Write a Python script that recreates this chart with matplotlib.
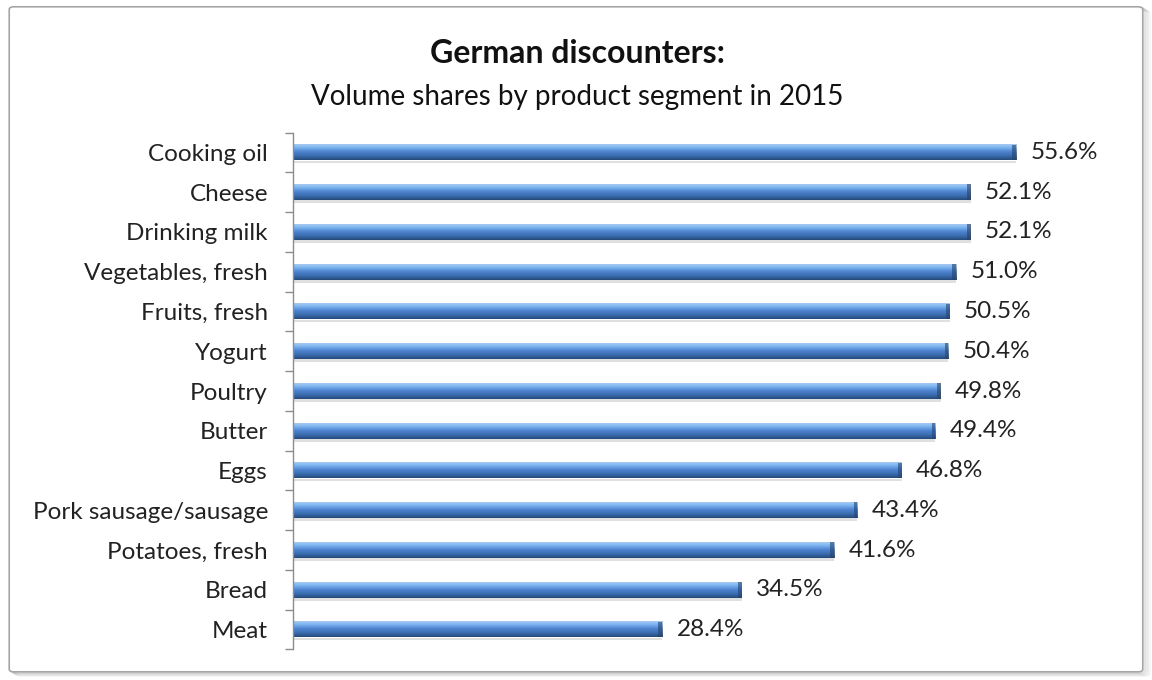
import matplotlib.pyplot as plt
import numpy as np
from matplotlib.patches import FancyBboxPatch
from matplotlib.colors import LinearSegmentedColormap

plt.rcParams['font.family'] = ['Lato', 'DejaVu Sans']

segments = ['Cooking oil', 'Cheese', 'Drinking milk', 'Vegetables, fresh', 'Fruits, fresh',
            'Yogurt', 'Poultry', 'Butter', 'Eggs', 'Pork sausage/sausage',
            'Potatoes, fresh', 'Bread', 'Meat']
shares = [55.6, 52.1, 52.1, 51.0, 50.5, 50.4, 49.8, 49.4, 46.8, 43.4, 41.6, 34.5, 28.4]

fig = plt.figure(figsize=(11.52, 6.8), dpi=100)

# outer frame with soft shadow
for i, a in enumerate([0.10, 0.08, 0.06, 0.04]):
    d = 0.0015 * (i + 1)
    fig.patches.append(FancyBboxPatch((0.008 + d, 0.012 - d), 0.984, 0.978,
                                      boxstyle='round,pad=0,rounding_size=0.004',
                                      transform=fig.transFigure, fc='none',
                                      ec=(0, 0, 0, a), lw=1.5, zorder=-2))
fig.patches.append(FancyBboxPatch((0.008, 0.012), 0.984, 0.978,
                                  boxstyle='round,pad=0,rounding_size=0.004',
                                  transform=fig.transFigure, fc='white',
                                  ec='#a6a6a6', lw=1.2, zorder=-1))

ax = fig.add_axes([0.2543, 0.045, 0.70, 0.76])
ax.set_facecolor('none')

# cylinder-style shading, top of bar to bottom
tube = LinearSegmentedColormap.from_list('tube', [
    (0.0, '#a9c8ee'), (0.12, '#8cc0f5'), (0.3, '#6ba3e6'), (0.5, '#4a80cb'),
    (0.7, '#3e71b5'), (0.88, '#2f5a94'), (1.0, '#264a7a')])
grad = np.linspace(0, 1, 64).reshape(-1, 1)
h = 0.40
y = np.arange(len(segments))
for yi, v in zip(y, shares):
    ax.imshow(grad, cmap=tube, aspect='auto', extent=(0, v, yi + h / 2, yi - h / 2),
              origin='upper', zorder=2, interpolation='bilinear')
    # end cap, a touch darker
    ax.barh(yi, 0.3, left=v - 0.3, height=h, color='#24446f', alpha=0.6, zorder=3, lw=0)
    ax.text(v + 1.1, yi, f'{v:.1f}%', va='center', ha='left', fontsize=17.5, color='#222222')
# soft drop shadow under bars
ax.barh(y + h / 2 + 0.04, shares, height=0.07, color='#000000', alpha=0.12, zorder=1, lw=0)

ax.set_xlim(0, 62)
ax.set_ylim(len(segments) - 0.5, -0.5)
ax.set_yticks(y)
ax.set_yticklabels(segments, fontsize=17.5, color='#222222')
ax.set_yticks(np.arange(-0.5, len(segments), 1), minor=True)
ax.tick_params(axis='y', which='major', length=0, pad=18)
ax.tick_params(axis='y', which='minor', length=6, width=1, color='#8c8c8c', direction='out')
ax.set_xticks([])
for s in ['top', 'right', 'bottom']:
    ax.spines[s].set_visible(False)
ax.spines['left'].set_color('#8c8c8c')
ax.spines['left'].set_linewidth(1)

fig.text(0.501, 0.922, 'German discounters:', ha='center', va='center',
         fontsize=23, fontweight='bold', color='#111111')
fig.text(0.501, 0.858, 'Volume shares by product segment in 2015', ha='center', va='center',
         fontsize=20, color='#111111')

fig.savefig('out.png', dpi=100)
